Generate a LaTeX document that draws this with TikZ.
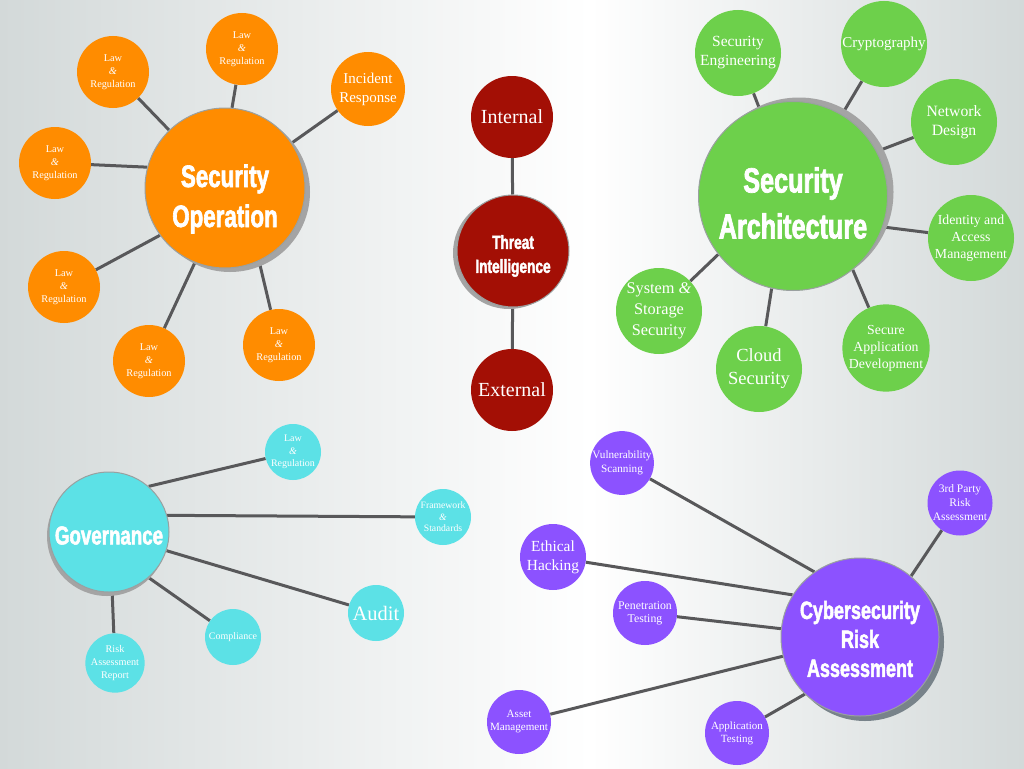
\documentclass[tikz,border=0pt]{standalone}
\usepackage{fontspec}
\setmainfont{Liberation Serif}
\newfontfamily\hd[FakeStretch=0.72,FakeBold=2]{Liberation Sans}
\definecolor{bgG}{HTML}{D3D9D9}
\definecolor{orng}{HTML}{FF8C00}
\definecolor{grn}{HTML}{6DD04B}
\definecolor{dred}{HTML}{A30F05}
\definecolor{cyn}{HTML}{5CE1E6}
\definecolor{prp}{HTML}{8C52FF}
\definecolor{lnc}{HTML}{58585A}
\definecolor{shd}{HTML}{A4A4A4}
\definecolor{shdb}{HTML}{78838A}
\definecolor{rim}{HTML}{9AA0A0}
\pgfdeclarelayer{bglayer}
\pgfdeclarelayer{lines}
\pgfsetlayers{bglayer,lines,main}
\tikzset{
  conn/.style={draw=lnc, line width=3pt},
  sat/.style={circle, inner sep=0pt, text=white, align=center, minimum size=#1},
  hub/.style={circle, inner sep=0pt, draw=rim, line width=1pt, minimum size=#1},
  hubtext/.style={text=white, align=center, inner sep=0pt},
  shadowc/.style={circle, inner sep=0pt, fill=#1},
}
\newcommand{\fs}[2]{\fontsize{#1}{#2}\selectfont}
\newcommand{\amp}{\textit{\&}}
\begin{document}
\begin{tikzpicture}[x=1pt,y=-1pt]
\useasboundingbox (0,0) rectangle (1024,768);
\begin{pgfonlayer}{bglayer}
\fill[left color=bgG, right color=white] (0,0) rectangle (590,768);
\fill[left color=white, right color=bgG] (590,0) rectangle (1024,768);
\end{pgfonlayer}

% shadows
\node[shadowc=shd, minimum size=160pt] (soS) at (230,192) {};
\node[shadowc=shd, minimum size=112pt] (tiS) at (509,253) {};
\node[shadowc=shd, minimum size=189pt] (saS) at (799,192) {};
\node[shadowc=shd, minimum size=120pt] (govS) at (107,536) {};
\node[shadowc=shdb, minimum size=158pt] (craS) at (865,642) {};

% hub nodes
\node[hub=160pt, fill=orng, label={[hubtext, yshift=-11pt, font=\hd\bfseries\fs{31}{40}]center:Security\\Operation}] (so) at (225,188) {};
\node[hub=112pt, fill=dred, label={[hubtext, yshift=-5pt, font=\hd\bfseries\fs{19}{24}]center:Threat\\Intelligence}] (ti) at (513,251) {};
\node[hub=189pt, fill=grn, label={[hubtext, yshift=-7pt, font=\hd\bfseries\fs{35}{46}]center:Security\\Architecture}] (sa) at (793,196) {};
\node[hub=120pt, fill=cyn, label={[hubtext, yshift=-3.5pt, font=\hd\bfseries\fs{26}{30}]center:Governance}] (gov) at (109,532) {};
\node[hub=158pt, fill=prp, label={[hubtext, yshift=-2pt, font=\hd\bfseries\fs{25}{29}]center:Cybersecurity\\Risk\\Assessment}] (cra) at (860,637) {};

% ---------- satellites ----------
% Security Operation
\node[sat=72pt, fill=orng, font=\fs{10.3}{13}] (o1) at (113,72) {Law\\\amp\\Regulation};
\node[sat=72pt, fill=orng, font=\fs{10.3}{13}] (o2) at (242,49) {Law\\\amp\\Regulation};
\node[sat=74pt, fill=orng, font=\fs{15}{19}] (ir) at (368,89) {Incident\\Response};
\node[sat=72pt, fill=orng, font=\fs{10.3}{13}] (o3) at (55,163) {Law\\\amp\\Regulation};
\node[sat=72pt, fill=orng, font=\fs{10.3}{13}] (o4) at (64,287) {Law\\\amp\\Regulation};
\node[sat=72pt, fill=orng, font=\fs{10.3}{13}] (o5) at (149,361) {Law\\\amp\\Regulation};
\node[sat=72pt, fill=orng, font=\fs{10.3}{13}] (o6) at (279,345) {Law\\\amp\\Regulation};

% Threat Intelligence
\node[sat=82pt, fill=dred, font=\fs{20}{24}] (int) at (512,117) {Internal};
\node[sat=82pt, fill=dred, font=\fs{20}{24}] (ext) at (512,390) {External};

% Security Architecture
\node[sat=86pt, fill=grn, font=\fs{15.5}{19}] (g1) at (738,53) {Security\\Engineering};
\node[sat=86pt, fill=grn, font=\fs{15}{19}] (g2) at (884,44) {Cryptography};
\node[sat=86pt, fill=grn, font=\fs{15.7}{19}] (g3) at (954,122) {Network\\Design};
\node[sat=86pt, fill=grn, font=\fs{13.8}{17}] (g4) at (971,238) {Identity and\\Access\\Management};
\node[sat=86pt, fill=grn, font=\fs{13.8}{17}] (g5) at (886,348) {Secure\\Application\\Development};
\node[sat=86pt, fill=grn, font=\fs{18.5}{23}] (g6) at (759,369) {Cloud\\Security};
\node[sat=86pt, fill=grn, font=\fs{16.3}{21}] (g7) at (659,311) {System \amp\\Storage\\Security};

% Governance
\node[sat=56pt, fill=cyn, font=\fs{10}{12.5}] (c1) at (293,452) {Law\\\amp\\Regulation};
\node[sat=56pt, fill=cyn, font=\fs{9.7}{11.5}] (c2) at (443,517) {Framework\\\amp\\Standards};
\node[sat=56pt, fill=cyn, font=\fs{20.5}{24}] (c3) at (376,613) {Audit};
\node[sat=56pt, fill=cyn, font=\fs{10}{12}] (c4) at (233,637) {Compliance};
\node[sat=56pt, fill=cyn, font=\fs{10.2}{12.7}] (c5) at (115,663) {Risk\\Assessment\\Report};

% Cybersecurity Risk Assessment
\node[sat=63pt, fill=prp, font=\fs{11.2}{14}] (p1) at (622,463) {Vulnerability\\Scanning};
\node[sat=65pt, fill=prp, font=\fs{11.5}{14}] (p2) at (960,503) {3rd Party\\Risk\\Assessment};
\node[sat=66pt, fill=prp, font=\fs{15.4}{19}] (p3) at (553,557) {Ethical\\Hacking};
\node[sat=64pt, fill=prp, font=\fs{11.8}{13}] (p4) at (645,613) {Penetration\\Testing};
\node[sat=64pt, fill=prp, font=\fs{11.1}{13}] (p5) at (519,722) {Asset\\Management};
\node[sat=64pt, fill=prp, font=\fs{11}{13}] (p6) at (737,733) {Application\\Testing};

% ---------- connectors ----------
\begin{pgfonlayer}{lines}
\draw[conn] (o1) -- (so.134.5);
\draw[conn] (o2) -- (so.85);
\draw[conn] (ir) -- (so.34);
\draw[conn] (o3) -- (so.165);
\draw[conn] (o4) -- (so.-144);
\draw[conn] (o5) -- (so.-112);
\draw[conn] (o6) -- (so.-65);

\draw[conn] (int) -- (ti);
\draw[conn] (ti) -- (ext);

\draw[conn] (g1) -- (sa.111);
\draw[conn] (g2) -- (sa.59);
\draw[conn] (g3) -- (sa.28);
\draw[conn] (g4) -- (sa.-19);
\draw[conn] (g5) -- (sa.-51);
\draw[conn] (g6) -- (sa.-103);
\draw[conn] (g7) -- (sa.-142);

\draw[conn] (c1) -- (gov.49);
\draw[conn] (c2) -- (gov.16);
\draw[conn] (c3) -- (gov.-18);
\draw[conn] (c4) -- (gov.-49);
\draw[conn] (c5) -- (gov.-87);

\draw[conn] (p1) -- (cra.125);
\draw[conn] (p2) -- (cra.50);
\draw[conn] (p3) -- (cra.148);
\draw[conn] (p4) -- (cra.174);
\draw[conn] (p5) -- (cra.194);
\draw[conn] (p6) -- (cra.226);
\end{pgfonlayer}
\end{tikzpicture}
\end{document}
